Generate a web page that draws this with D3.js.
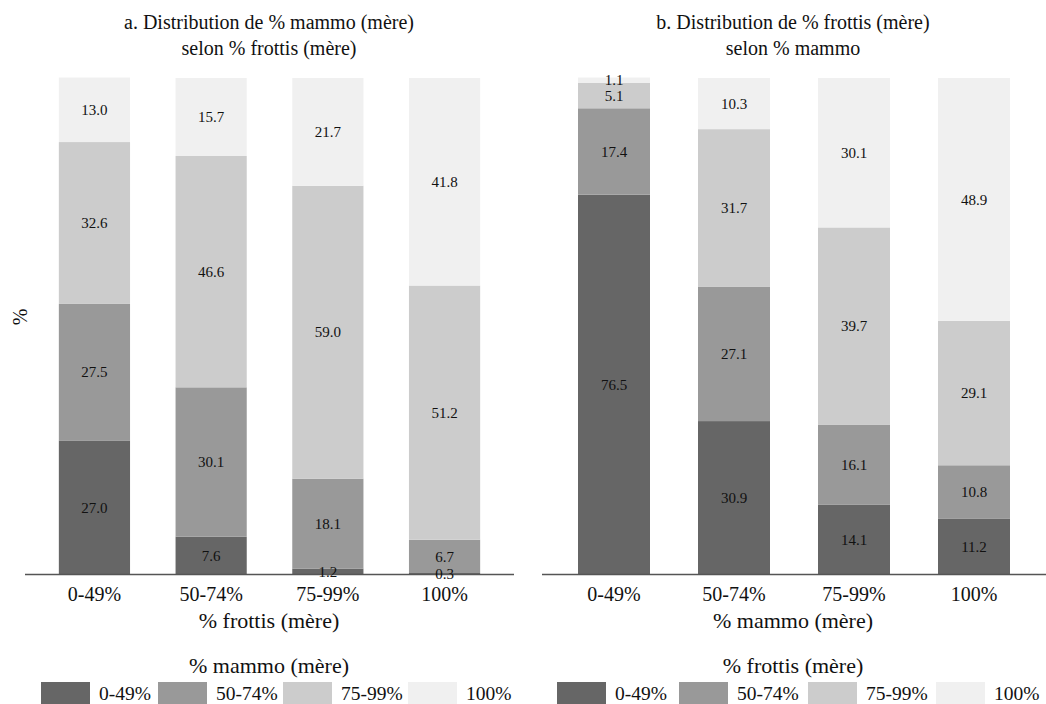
<!DOCTYPE html>
<html><head><meta charset="utf-8">
<script src="https://cdn.jsdelivr.net/npm/d3@7"></script>
<style>body{margin:0;background:#fff;} svg{display:block;font-family:"Liberation Serif","DejaVu Serif",serif;}</style>
</head><body>
<svg id="c" width="1046" height="704"></svg>
<script>
const categories = ["0-49%", "50-74%", "75-99%", "100%"];
const seriesKeys = ["0-49%", "50-74%", "75-99%", "100%"];
const colors = ["#666666", "#999999", "#cccccc", "#f0f0f0"];

// Panel a: distribution of % mammo by % frottis category
const panelA_s1 = [27.0, 7.6, 1.2, 0.3];
const panelA_s2 = [27.5, 30.1, 18.1, 6.7];
const panelA_s3 = [32.6, 46.6, 59.0, 51.2];
const panelA_s4 = [13.0, 15.7, 21.7, 41.8];

// Panel b: distribution of % frottis by % mammo category
const panelB_s1 = [76.5, 30.9, 14.1, 11.2];
const panelB_s2 = [17.4, 27.1, 16.1, 10.8];
const panelB_s3 = [5.1, 31.7, 39.7, 29.1];
const panelB_s4 = [1.1, 10.3, 30.1, 48.9];

const svg = d3.select("#c");
const yTop = 78, yBase = 574.5;
const y = d3.scaleLinear().domain([0, 100]).range([yBase, yTop]);
const FONT = "Liberation Serif";

function panel(cfg) {
  const rows = categories.map((c, i) => ({cat: c, "0-49%": cfg.s[0][i], "50-74%": cfg.s[1][i], "75-99%": cfg.s[2][i], "100%": cfg.s[3][i]}));
  const stack = d3.stack().keys(seriesKeys)(rows);
  const x = d3.scaleBand().domain(categories).range(cfg.range).paddingInner(cfg.pi).paddingOuter(cfg.po);
  const g = svg.append("g").attr("font-family", FONT);
  stack.forEach((layer, k) => {
    layer.forEach(d => {
      g.append("rect").attr("x", x(d.data.cat)).attr("width", x.bandwidth())
        .attr("y", y(d[1])).attr("height", y(d[0]) - y(d[1]))
        .attr("fill", colors[k]);
    });
  });
  g.append("line").attr("x1", cfg.range[0]).attr("x2", cfg.range[1]).attr("y1", yBase).attr("y2", yBase)
    .attr("stroke", "#555").attr("stroke-width", 1.5);
  stack.forEach((layer, k) => {
    layer.forEach(d => {
      const v = d.data[layer.key];
      g.append("text").attr("x", x(d.data.cat) + x.bandwidth() / 2).attr("y", (y(d[0]) + y(d[1])) / 2)
        .attr("dy", "0.35em").attr("text-anchor", "middle").attr("font-size", 15).attr("fill", "#111")
        .text(v.toFixed(1));
    });
  });
  const ax = g.append("g").attr("transform", `translate(0,${yBase})`)
    .call(d3.axisBottom(x).tickSize(0).tickPadding(12));
  ax.select(".domain").remove();
  ax.selectAll("text").attr("font-size", 20).attr("fill", "#111").attr("font-family", FONT);
  const cx = cfg.center;
  g.append("text").attr("x", cx).attr("y", 628).attr("text-anchor", "middle").attr("font-size", 22).attr("fill", "#111").text(cfg.xtitle);
  g.append("text").attr("x", cx).attr("y", 29).attr("text-anchor", "middle").attr("font-size", 20).attr("fill", "#111").text(cfg.title1);
  g.append("text").attr("x", cx).attr("y", 55).attr("text-anchor", "middle").attr("font-size", 20).attr("fill", "#111").text(cfg.title2);
  g.append("text").attr("x", cx).attr("y", 673).attr("text-anchor", "middle").attr("font-size", 22).attr("fill", "#111").text(cfg.ltitle);
  seriesKeys.forEach((k, i) => {
    const lx = cfg.lx[i];
    g.append("rect").attr("x", lx).attr("y", 682).attr("width", 49).attr("height", 24).attr("fill", colors[i]);
    g.append("text").attr("x", lx + 58).attr("y", 700).attr("font-size", 19.5).attr("fill", "#111").text(k);
  });
}

panel({s: [panelA_s1, panelA_s2, panelA_s3, panelA_s4], range: [25, 514], pi: 0.39, po: 0.29, center: 269,
  title1: "a. Distribution de % mammo (mère)", title2: "selon % frottis (mère)", xtitle: "% frottis (mère)", ltitle: "% mammo (mère)",
  lx: [41, 158, 283, 408]});
panel({s: [panelB_s1, panelB_s2, panelB_s3, panelB_s4], range: [542, 1046], pi: 0.4, po: 0.3, center: 793,
  title1: "b. Distribution de % frottis (mère)", title2: "selon % mammo", xtitle: "% mammo (mère)", ltitle: "% frottis (mère)",
  lx: [557, 679, 808, 936]});

svg.append("text").attr("transform", "translate(27,317) rotate(-90)").attr("text-anchor", "middle")
  .attr("font-family", FONT).attr("font-size", 20).attr("fill", "#111").text("%");
</script>
</body></html>
